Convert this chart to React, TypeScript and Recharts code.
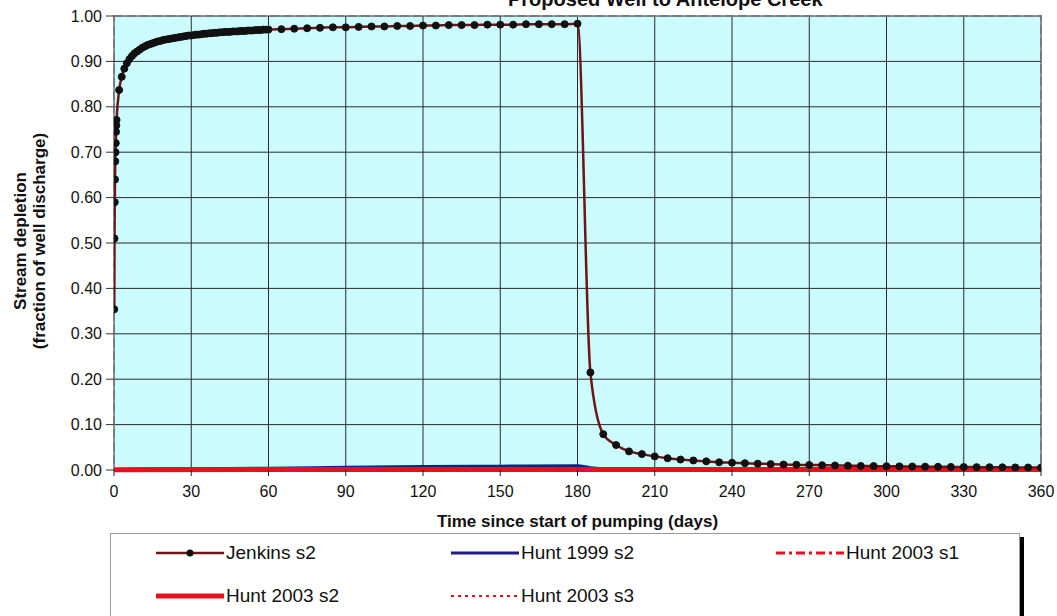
import {
  LineChart,
  Line,
  XAxis,
  YAxis,
  CartesianGrid,
  ReferenceArea,
  Legend,
} from "recharts";

// time since start of pumping (days)
const xTicks = [0, 30, 60, 90, 120, 150, 180, 210, 240, 270, 300, 330, 360];
const yTicks = [0, 0.1, 0.2, 0.3, 0.4, 0.5, 0.6, 0.7, 0.8, 0.9, 1.0];

const jenkinsDays = [
  0.1, 0.2, 0.3, 0.4, 0.5, 0.6, 0.7, 0.8, 0.9,
  1, 2, 3, 4, 5, 6, 7, 8, 9, 10,
  11, 12, 13, 14, 15, 16, 17, 18, 19, 20,
  21, 22, 23, 24, 25, 26, 27, 28, 29, 30,
  31, 32, 33, 34, 35, 36, 37, 38, 39, 40,
  41, 42, 43, 44, 45, 46, 47, 48, 49, 50,
  51, 52, 53, 54, 55, 56, 57, 58, 59, 60,
  65, 70, 75, 80, 85, 90, 95, 100, 105, 110, 115, 120,
  125, 130, 135, 140, 145, 150, 155, 160, 165, 170, 175, 180,
  185, 190, 195, 200, 205, 210, 215, 220, 225, 230, 235, 240,
  245, 250, 255, 260, 265, 270, 275, 280, 285, 290, 295, 300,
  305, 310, 315, 320, 325, 330, 335, 340, 345, 350, 355, 360,
];
const jenkinsDepletion = [
  0.354, 0.51, 0.59, 0.64, 0.68, 0.7, 0.72, 0.745, 0.759,
  0.771, 0.837, 0.866, 0.884, 0.896, 0.905, 0.912, 0.918, 0.922, 0.926,
  0.93, 0.933, 0.936, 0.938, 0.94, 0.942, 0.944, 0.945, 0.947, 0.948,
  0.949, 0.95, 0.951, 0.952, 0.953, 0.954, 0.955, 0.956, 0.957, 0.957,
  0.958, 0.959, 0.959, 0.96, 0.961, 0.961, 0.962, 0.962, 0.963, 0.963,
  0.964, 0.964, 0.965, 0.965, 0.965, 0.966, 0.966, 0.966, 0.967, 0.967,
  0.967, 0.968, 0.968, 0.968, 0.969, 0.969, 0.969, 0.97, 0.97, 0.97,
  0.971, 0.972, 0.973, 0.974, 0.975, 0.975, 0.976, 0.977, 0.977, 0.978, 0.978, 0.979,
  0.979, 0.98, 0.98, 0.98, 0.981, 0.981, 0.981, 0.982, 0.982, 0.982, 0.982, 0.983,
  0.215, 0.079, 0.055, 0.041, 0.035, 0.03, 0.026, 0.023, 0.021, 0.019, 0.017, 0.016,
  0.015, 0.014, 0.013, 0.012, 0.0115, 0.011, 0.0105, 0.01, 0.0095, 0.009, 0.0087, 0.0083,
  0.008, 0.0077, 0.0074, 0.0071, 0.0068, 0.0066, 0.0063, 0.0061, 0.0059, 0.0057, 0.0055, 0.0053,
];

const hunt1999Days = [0, 10, 30, 60, 90, 120, 150, 180, 185, 190, 200, 240, 300, 360];
const hunt1999Depletion = [0, 0.002, 0.003, 0.004, 0.006, 0.0075, 0.0085, 0.0095, 0.005, 0.003, 0.002, 0.0012, 0.0008, 0.0006];

const hunt2003Days = [0, 60, 120, 180, 190, 240, 300, 360];
const hunt2003s1Depletion = [0, 0.0008, 0.0009, 0.001, 0.0008, 0.0007, 0.0006, 0.0006];
const hunt2003s2Depletion = [0.0005, 0.001, 0.001, 0.0012, 0.001, 0.001, 0.001, 0.001];
const hunt2003s3Depletion = [0, 0.0007, 0.0008, 0.0009, 0.0007, 0.0006, 0.0006, 0.0005];

const toPoints = (days: number[], vals: number[]) =>
  days.map((t, i) => ({ t, v: vals[i] }));

// legend order; drawing order puts Jenkins on top and red over blue
const series = [
  { name: "Jenkins s2", color: "#6e1414", width: 2.5, dash: undefined, data: toPoints(jenkinsDays, jenkinsDepletion), dots: true, col: 0, row: 0, z: 5 },
  { name: "Hunt 1999 s2", color: "#1c1c86", width: 3, dash: undefined, data: toPoints(hunt1999Days, hunt1999Depletion), dots: false, col: 1, row: 0, z: 1 },
  { name: "Hunt 2003 s1", color: "#e8101c", width: 3, dash: "9 4 3 4", data: toPoints(hunt2003Days, hunt2003s1Depletion), dots: false, col: 2, row: 0, z: 2 },
  { name: "Hunt 2003 s2", color: "#e8101c", width: 5, dash: undefined, data: toPoints(hunt2003Days, hunt2003s2Depletion), dots: false, col: 0, row: 1, z: 4 },
  { name: "Hunt 2003 s3", color: "#e8101c", width: 2, dash: "3 4", data: toPoints(hunt2003Days, hunt2003s3Depletion), dots: false, col: 1, row: 1, z: 3 },
];

const legendCols = [45, 340, 665];
const legendRows = [19, 62];

const renderLegend = () => (
  <div
    style={{
      position: "relative",
      width: 910,
      height: 90,
      boxSizing: "border-box",
      border: "1px solid #9a9a9a",
      background: "#fff",
      boxShadow: "4px 4px 0 #000",
    }}
  >
    {series.map((s) => (
      <div
        key={s.name}
        style={{
          position: "absolute",
          left: legendCols[s.col],
          top: legendRows[s.row] - 12,
          height: 24,
          display: "flex",
          alignItems: "center",
          fontSize: 19,
          color: "#111",
          whiteSpace: "nowrap",
        }}
      >
        <svg width={68} height={14} style={{ marginRight: 2 }}>
          <line x1={0} y1={7} x2={68} y2={7} stroke={s.color} strokeWidth={s.width} strokeDasharray={s.dash} />
          {s.dots && <circle cx={34} cy={7} r={3.5} fill="#111" />}
        </svg>
        {s.name}
      </div>
    ))}
  </div>
);

const YTitle = () => (
  <g fontWeight="bold" fontSize={17} fill="#111">
    <text x={20} y={241} textAnchor="middle" dominantBaseline="central" transform="rotate(-90, 20, 241)">
      Stream depletion
    </text>
    <text x={39} y={241} textAnchor="middle" dominantBaseline="central" transform="rotate(-90, 39, 241)">
      (fraction of well discharge)
    </text>
  </g>
);

export default function App() {
  return (
    <div
      style={{
        position: "absolute",
        left: 0,
        top: 0,
        width: 1057,
        height: 616,
        overflow: "hidden",
        background: "#fff",
        fontFamily: '"Liberation Sans", Arial, sans-serif',
      }}
    >
      <svg width={1057} height={20} style={{ position: "absolute", left: 0, top: 0 }}>
        <text x={508} y={6} fontSize={20} fontWeight="bold" fill="#111">
          Proposed Well to Antelope Creek
        </text>
      </svg>
      <LineChart width={1057} height={616} margin={{ top: 16, right: 16, left: 54, bottom: 0 }}>
        <CartesianGrid stroke="#2b2b2b" strokeWidth={1} fill="#cbfbfd" fillOpacity={1} />
        <XAxis
          dataKey="t"
          type="number"
          domain={[0, 360]}
          ticks={xTicks}
          allowDataOverflow
          height={56}
          tick={{ fontSize: 16, fill: "#111" }}
          tickSize={6}
          tickMargin={10}
          axisLine={false}
          tickLine={{ stroke: "#222" }}
          label={{
            value: "Time since start of pumping (days)",
            position: "insideBottom",
            offset: -1,
            fontSize: 17,
            fontWeight: "bold",
            fill: "#111",
          }}
        />
        <YAxis
          type="number"
          domain={[0, 1]}
          ticks={yTicks}
          width={60}
          tickFormatter={(v: number) => v.toFixed(2)}
          tick={{ fontSize: 16, fill: "#111" }}
          tickSize={8}
          tickMargin={4}
          axisLine={false}
          tickLine={{ stroke: "#333" }}
          label={{ content: () => <YTitle /> }}
        />
        <ReferenceArea
          x1={0}
          x2={360}
          y1={0}
          y2={1}
          stroke="#7a7a7a"
          strokeWidth={2}
          strokeDasharray="9 4"
          fill="#fff"
          fillOpacity={0}
          ifOverflow="visible"
        />
        {[...series].sort((a, b) => a.z - b.z).map((s) => (
          <Line
            key={s.name}
            name={s.name}
            data={s.data}
            dataKey="v"
            type="monotone"
            stroke={s.color}
            strokeWidth={s.width}
            strokeDasharray={s.dash}
            dot={s.dots ? { r: 3.5, fill: "#111", stroke: "#111", strokeWidth: 1 } : false}
            activeDot={false}
            isAnimationActive={false}
          />
        ))}
        <Legend
          verticalAlign="bottom"
          content={renderLegend}
          wrapperStyle={{ left: 110, top: 533, bottom: "auto", width: 915, height: 90 }}
        />
      </LineChart>
    </div>
  );
}
